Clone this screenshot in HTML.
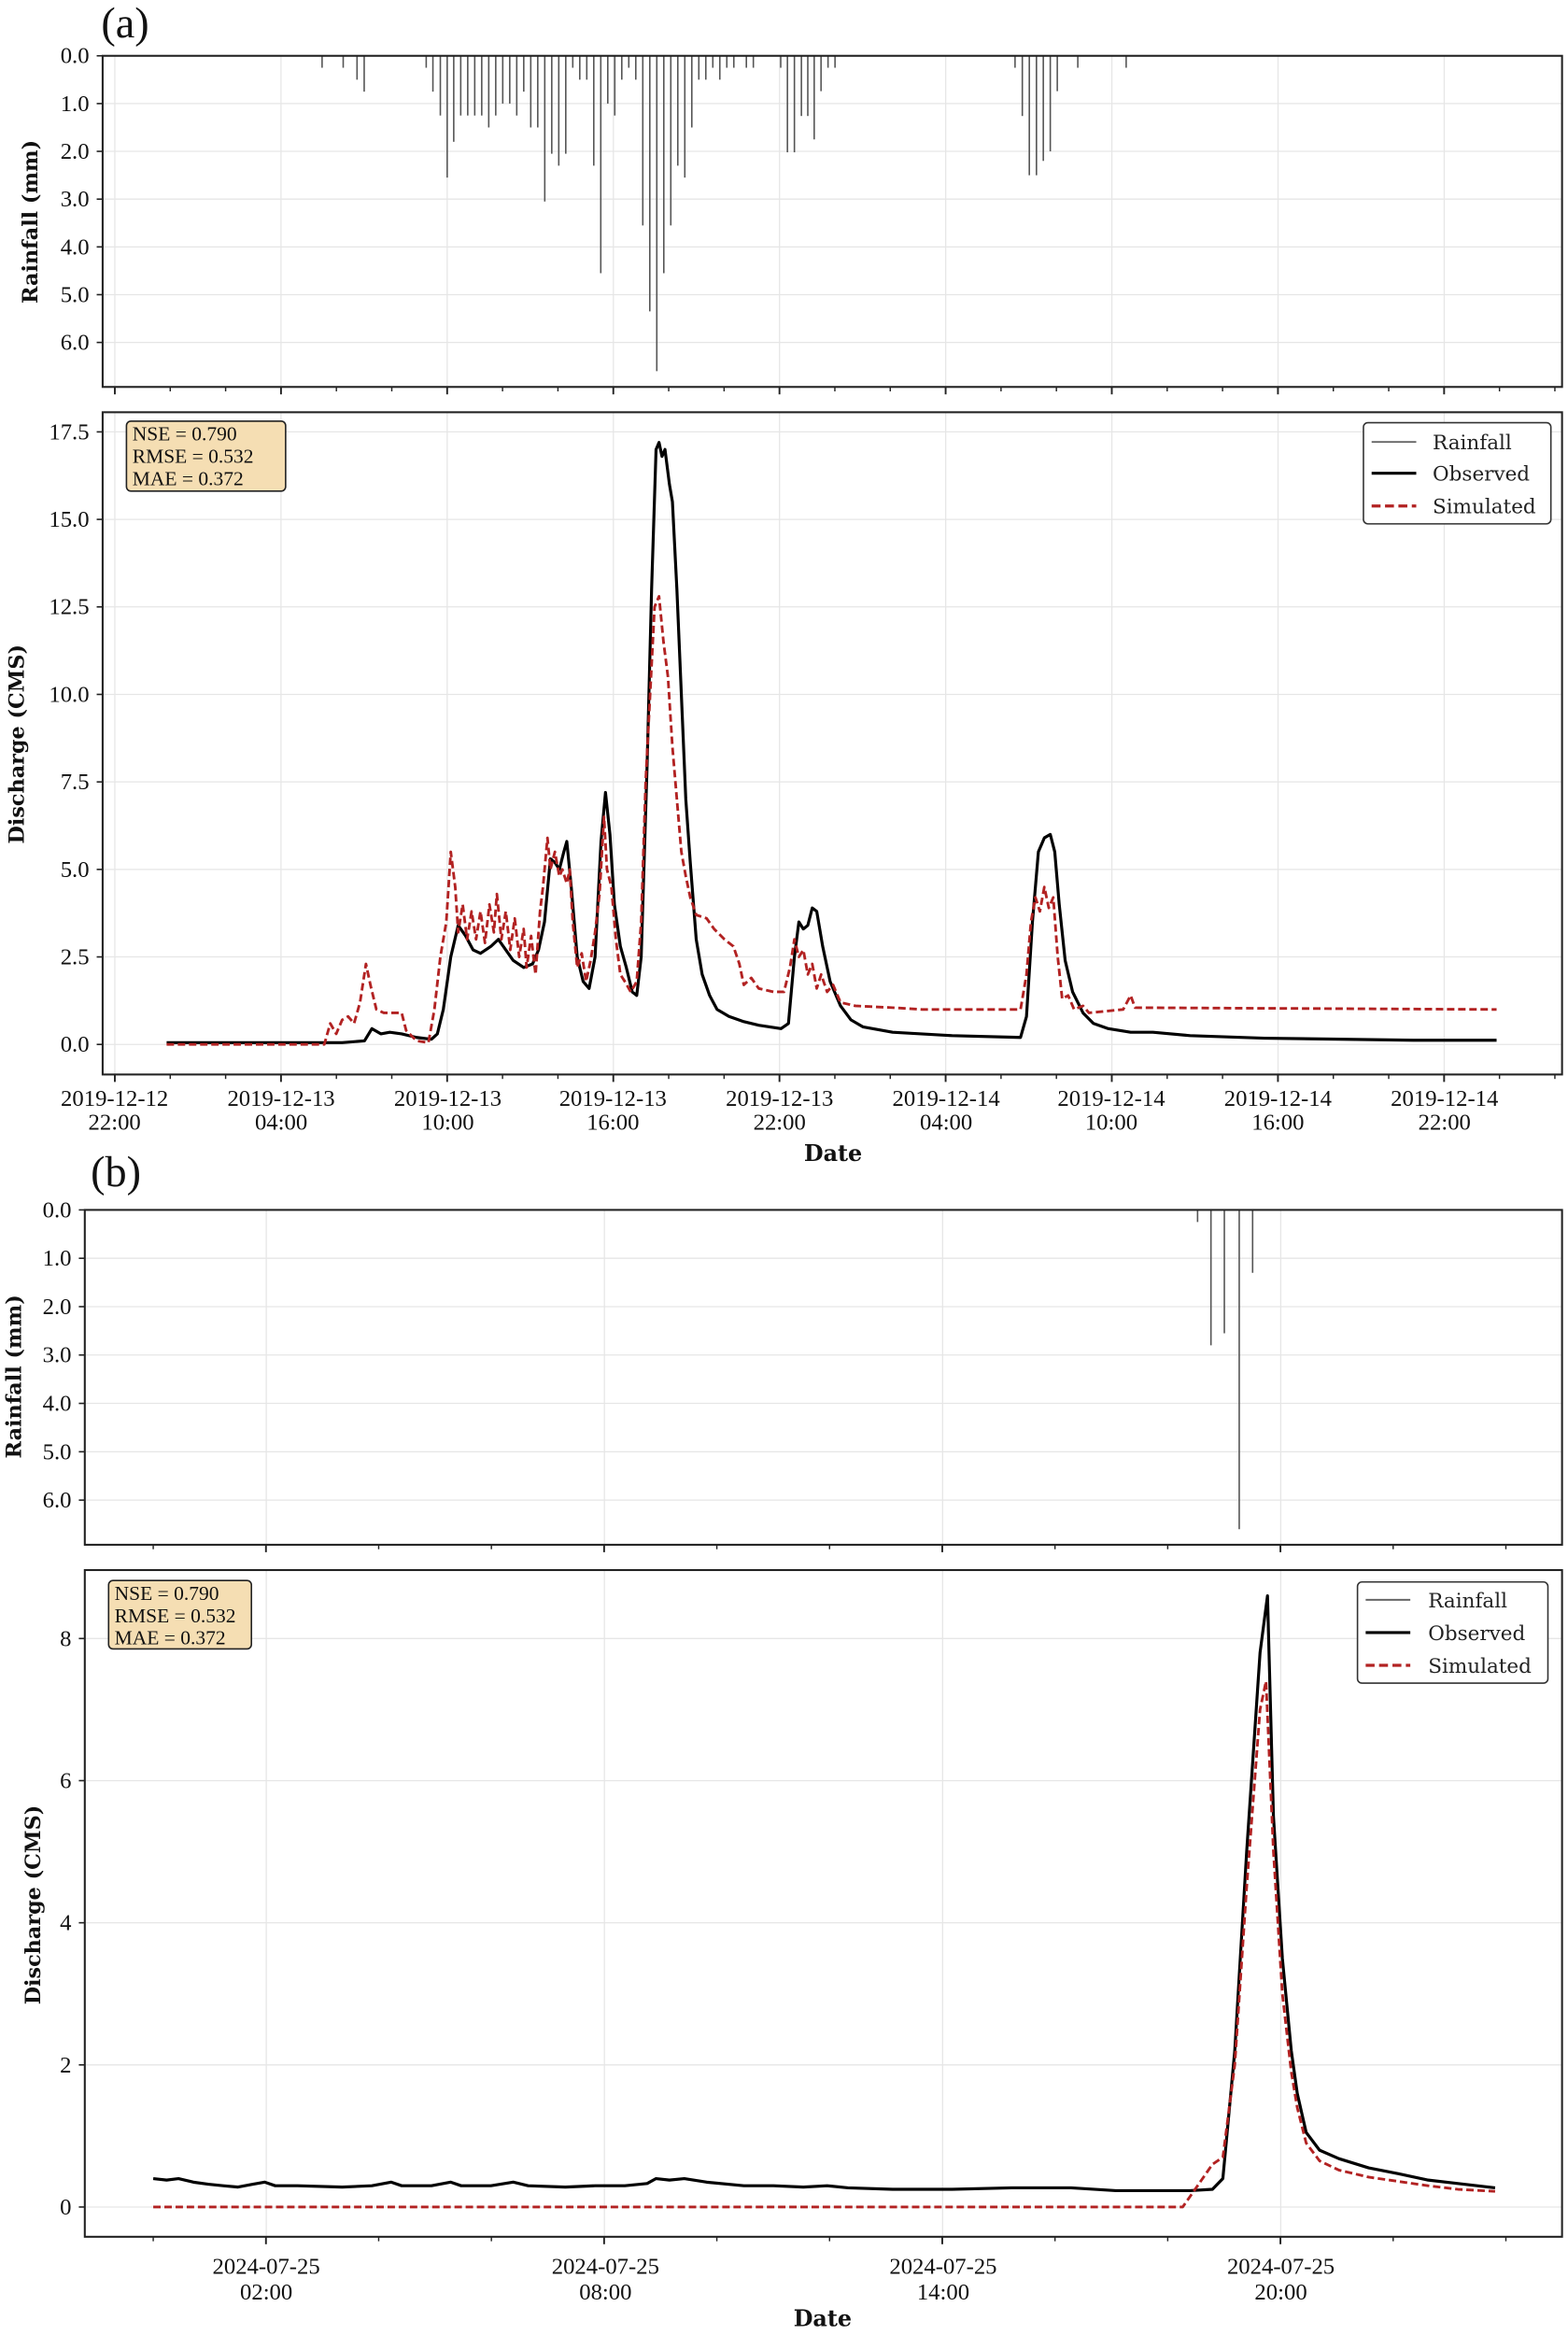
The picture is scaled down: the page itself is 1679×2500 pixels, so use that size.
<!DOCTYPE html>
<html><head><meta charset="utf-8"><style>
html,body{margin:0;padding:0;background:#fff;}
svg{display:block;}
.tk{font-family:"Liberation Serif",serif;font-size:15.5px;fill:#111;}
.al{font-family:"DejaVu Serif",serif;font-size:14px;font-weight:bold;fill:#111;}
.lg{font-family:"DejaVu Serif",serif;font-size:13.5px;fill:#222;}
.st{font-family:"Liberation Serif",serif;font-size:13.5px;fill:#111;}
.gr{stroke:#e6e6e6;stroke-width:0.8;}
</style></head><body>
<svg id="s" width="1679" height="2500" viewBox="0 0 1054 1569" preserveAspectRatio="none" xmlns="http://www.w3.org/2000/svg">
<rect width="1054" height="1569" fill="#fff"/>
<g id="grid"></g>
<g id="data"></g>
<rect x="69" y="37.5" width="981" height="222.5" fill="none" stroke="#222" stroke-width="1.3"/>
<rect x="69" y="277" width="981" height="445" fill="none" stroke="#222" stroke-width="1.3"/>
<rect x="57" y="813" width="993" height="225" fill="none" stroke="#222" stroke-width="1.3"/>
<rect x="57" y="1055" width="993" height="448" fill="none" stroke="#222" stroke-width="1.3"/>
<g id="ticks"></g>

<text x="68" y="25" style="font-family:'Liberation Serif',serif;font-size:29px;fill:#111">(a)</text>
<text x="61" y="797" style="font-family:'Liberation Serif',serif;font-size:29px;fill:#111">(b)</text>

<g class="tk" text-anchor="end">
<text x="60" y="42.5">0.0</text><text x="60" y="74.6">1.0</text><text x="60" y="106.7">2.0</text><text x="60" y="138.8">3.0</text><text x="60" y="170.9">4.0</text><text x="60" y="203">5.0</text><text x="60" y="235.1">6.0</text>
<text x="60" y="706.8">0.0</text><text x="60" y="648">2.5</text><text x="60" y="589.2">5.0</text><text x="60" y="530.4">7.5</text><text x="60" y="471.6">10.0</text><text x="60" y="412.8">12.5</text><text x="60" y="354">15.0</text><text x="60" y="295.2">17.5</text>
<text x="48" y="818">0.0</text><text x="48" y="850.5">1.0</text><text x="48" y="883">2.0</text><text x="48" y="915.5">3.0</text><text x="48" y="948">4.0</text><text x="48" y="980.5">5.0</text><text x="48" y="1013">6.0</text>
<text x="48" y="1488">0</text><text x="48" y="1392.5">2</text><text x="48" y="1297">4</text><text x="48" y="1201.5">6</text><text x="48" y="1106">8</text>
</g>
<g class="al" text-anchor="middle">
<text transform="translate(25,149) rotate(-90)">Rainfall (mm)</text>
<text transform="translate(16,500) rotate(-90)">Discharge (CMS)</text>
<text transform="translate(14,925) rotate(-90)">Rainfall (mm)</text>
<text transform="translate(27,1280) rotate(-90)">Discharge (CMS)</text>
<text x="560" y="780" style="font-size:15px">Date</text>
<text x="553" y="1563" style="font-size:15px">Date</text>
</g>
<g class="tk" text-anchor="middle">
<text x="77" y="743">2019-12-12</text><text x="77" y="759">22:00</text>
<text x="189" y="743">2019-12-13</text><text x="189" y="759">04:00</text>
<text x="301" y="743">2019-12-13</text><text x="301" y="759">10:00</text>
<text x="412" y="743">2019-12-13</text><text x="412" y="759">16:00</text>
<text x="524" y="743">2019-12-13</text><text x="524" y="759">22:00</text>
<text x="636" y="743">2019-12-14</text><text x="636" y="759">04:00</text>
<text x="747" y="743">2019-12-14</text><text x="747" y="759">10:00</text>
<text x="859" y="743">2019-12-14</text><text x="859" y="759">16:00</text>
<text x="971" y="743">2019-12-14</text><text x="971" y="759">22:00</text>
<text x="179" y="1528">2024-07-25</text><text x="179" y="1545">02:00</text>
<text x="407" y="1528">2024-07-25</text><text x="407" y="1545">08:00</text>
<text x="634" y="1528">2024-07-25</text><text x="634" y="1545">14:00</text>
<text x="861" y="1528">2024-07-25</text><text x="861" y="1545">20:00</text>
</g>
<rect x="85" y="283" width="107" height="47" rx="3" fill="#f5deb3" stroke="#222" stroke-width="1"/>
<g class="st"><text x="89" y="296">NSE = 0.790</text><text x="89" y="311">RMSE = 0.532</text><text x="89" y="326">MAE = 0.372</text></g>
<rect x="73" y="1062" width="96" height="46" rx="3" fill="#f5deb3" stroke="#222" stroke-width="1"/>
<g class="st"><text x="77" y="1075">NSE = 0.790</text><text x="77" y="1090">RMSE = 0.532</text><text x="77" y="1105">MAE = 0.372</text></g>
<rect x="916.5" y="284" width="126" height="68" rx="3" fill="#fff" stroke="#333" stroke-width="1"/>
<line x1="922" y1="297" x2="952" y2="297" stroke="#666" stroke-width="1.2"/>
<line x1="922" y1="318" x2="952" y2="318" stroke="#000" stroke-width="2"/>
<line x1="922" y1="340" x2="952" y2="340" stroke="#b22222" stroke-width="2" stroke-dasharray="6,3"/>
<g class="lg"><text x="963" y="302">Rainfall</text><text x="963" y="323">Observed</text><text x="963" y="345">Simulated</text></g>
<rect x="912.5" y="1063" width="128" height="68" rx="3" fill="#fff" stroke="#333" stroke-width="1"/>
<line x1="918" y1="1075" x2="948" y2="1075" stroke="#666" stroke-width="1.2"/>
<line x1="918" y1="1097" x2="948" y2="1097" stroke="#000" stroke-width="2"/>
<line x1="918" y1="1119" x2="948" y2="1119" stroke="#b22222" stroke-width="2" stroke-dasharray="6,3"/>
<g class="lg"><text x="960" y="1080">Rainfall</text><text x="960" y="1102">Observed</text><text x="960" y="1124">Simulated</text></g>
</svg>
<script>
(function(){
var NS="http://www.w3.org/2000/svg";
function el(p,t,a){var e=document.createElementNS(NS,t);for(var k in a)e.setAttribute(k,a[k]);document.getElementById(p).appendChild(e);return e;}
var gxa=[],gxb=[];for(var i=0;i<9;i++)gxa.push(77.2+111.7*i);for(i=0;i<4;i++)gxb.push(179+227.3*i);
gxa.forEach(function(x){el("grid","line",{x1:x,x2:x,y1:37.5,y2:260,"class":"gr"});el("grid","line",{x1:x,x2:x,y1:277,y2:722,"class":"gr"});});
gxb.forEach(function(x){el("grid","line",{x1:x,x2:x,y1:813,y2:1038,"class":"gr"});el("grid","line",{x1:x,x2:x,y1:1055,y2:1503,"class":"gr"});});
for(i=0;i<7;i++){var y=37.5+32.1*i;el("grid","line",{x1:69,x2:1050,y1:y,y2:y,"class":"gr"});y=813+32.5*i;el("grid","line",{x1:57,x2:1050,y1:y,y2:y,"class":"gr"});}
for(i=0;i<8;i++){var y=701.8-58.8*i;el("grid","line",{x1:69,x2:1050,y1:y,y2:y,"class":"gr"});}
for(i=0;i<5;i++){var y=1483-95.5*i;el("grid","line",{x1:57,x2:1050,y1:y,y2:y,"class":"gr"});}
for(i=0;i<=26;i++){var x=77.2+37.23*i;if(x>1050)break;var mj=(i%3==0);el("ticks","line",{x1:x,x2:x,y1:260,y2:mj?265:263,stroke:"#222","stroke-width":mj?1.2:0.9});el("ticks","line",{x1:x,x2:x,y1:722,y2:mj?727:725,stroke:"#222","stroke-width":mj?1.2:0.9});}
for(i=0;i<=12;i++){var x=103+75.77*i;if(x>1050)break;var mj=((i-1)%3==0);el("ticks","line",{x1:x,x2:x,y1:1038,y2:mj?1043:1041,stroke:"#222","stroke-width":mj?1.2:0.9});el("ticks","line",{x1:x,x2:x,y1:1503,y2:mj?1508:1506,stroke:"#222","stroke-width":mj?1.2:0.9});}
[[69,[37.5,69.6,101.7,133.8,165.9,198,230.1,701.8,643,584.2,525.4,466.6,407.8,349,290.2]],[57,[813,845.5,878,910.5,943,975.5,1008,1483,1387.5,1292,1196.5,1101]]].forEach(function(p){p[1].forEach(function(y){el("ticks","line",{x1:p[0]-4,x2:p[0],y1:y,y2:y,stroke:"#222","stroke-width":1});});});
var ra=[[216.5,.25],[230.7,.25],[240,.5],[244.8,.75],[286.5,.25],[291,.75],[296,1.25],[300.6,2.55],[305,1.8]];
var vals=[1.25,1.25,1.25,1.25,1.5,1.25,1.0,1.0,1.25,.75,1.5,1.5,3.05,2.05,2.3,2.05,.25,.5,.5,2.3,4.55,1.0,1.25,.5,.25,.5,3.55,5.35,6.6,4.55,3.55,2.3,2.55,1.5,.5,.5,.25,.5,.25,.25];
for(i=0;i<vals.length;i++)ra.push([309.7+4.707*i,vals[i]]);
ra=ra.concat([[501.7,.25],[506.4,.25],[524.8,.25],[529.3,2.02],[534,2.02],[538.7,1.26],[543,1.26],[547.3,1.75],[551.9,.74],[556.6,.25],[561.3,.25],[682.3,.25],[687.2,1.26],[691.9,2.5],[696.7,2.5],[701.3,2.2],[706,2.0],[710.7,.74],[724.5,.25],[757,.25]]);
ra.forEach(function(b){el("data","line",{x1:b[0],x2:b[0],y1:37.5,y2:37.5+b[1]*32.1,stroke:"#555","stroke-width":1});});
[[805,.25],[814,2.8],[823,2.55],[833,6.6],[842,1.3]].forEach(function(b){el("data","line",{x1:b[0],x2:b[0],y1:813,y2:813+b[1]*32.5,stroke:"#555","stroke-width":1});});
function pl(pts,y0,k,st){var s=pts.map(function(p){return p[0]+","+(y0-p[1]*k).toFixed(1);}).join(" ");var a={points:s,fill:"none","stroke-linejoin":"round"};for(var q in st)a[q]=st[q];el("data","polyline",a);}
var oa=[[112,.05],[230,.05],[245,.1],[250,.45],[256,.3],[262,.35],[270,.3],[280,.2],[290,.15],[294,.3],[298,1.0],[303,2.5],[308,3.4],[313,3.1],[318,2.7],[323,2.6],[330,2.8],[335,3.0],[340,2.7],[345,2.4],[352,2.2],[358,2.3],[362,2.7],[366,3.5],[370,5.3],[373,5.2],[376,5.0],[379,5.5],[381,5.8],[384,4.5],[388,2.5],[392,1.8],[396,1.6],[400,2.5],[404,5.8],[407,7.2],[410,6.0],[413,4.0],[417,2.8],[421,2.2],[425,1.5],[428,1.4],[431,2.5],[435,8],[438,13],[441,17],[443,17.2],[445,16.8],[447,17.0],[450,16],[452,15.5],[455,13],[458,10],[461,7],[464,5.2],[468,3.0],[472,2.0],[477,1.4],[482,1.0],[490,.8],[500,.65],[510,.55],[525,.45],[530,.6],[534,2.5],[537,3.5],[540,3.3],[543,3.4],[546,3.9],[549,3.8],[553,2.8],[558,1.8],[565,1.1],[572,.7],[580,.5],[600,.35],[640,.25],[686,.2],[690,.8],[694,3.5],[698,5.5],[702,5.9],[706,6.0],[709,5.5],[712,4.0],[716,2.4],[721,1.5],[728,.9],[735,.6],[745,.45],[760,.35],[775,.35],[800,.25],[850,.18],[900,.15],[950,.12],[1006,.12]];
var sa=[[112,0],[218,0],[222,.6],[226,.3],[230,.7],[234,.8],[238,.6],[242,1.2],[246,2.3],[249,1.7],[253,1.0],[258,.9],[270,.9],[273,.4],[280,.1],[288,.05],[292,1.0],[296,2.5],[300,3.5],[303,5.5],[306,4.5],[308,3.2],[311,4.0],[314,3.0],[317,3.8],[320,3.0],[323,3.8],[326,2.9],[329,4.0],[332,3.2],[334,4.3],[337,3.0],[340,3.8],[343,2.7],[346,3.6],[349,2.5],[352,3.3],[354,2.2],[357,3.1],[360,2.0],[363,3.8],[365,4.5],[368,5.9],[370,5.0],[373,5.5],[376,4.8],[378,5.0],[381,4.6],[383,5.0],[385,3.5],[388,2.2],[391,2.6],[394,1.8],[397,2.4],[400,3.2],[403,4.3],[406,6.5],[408,5.0],[411,4.5],[414,3.0],[417,2.0],[420,1.8],[424,1.5],[428,1.8],[431,3.5],[434,7.5],[437,10],[440,12.5],[443,12.8],[446,11.5],[449,10.5],[452,8.5],[455,7],[458,5.5],[461,4.8],[464,4.2],[468,3.7],[475,3.6],[480,3.3],[487,3.0],[493,2.8],[497,2.3],[500,1.7],[505,1.9],[510,1.6],[520,1.5],[527,1.5],[531,2.2],[534,3.0],[537,2.5],[540,2.7],[543,2.0],[546,2.3],[549,1.6],[552,2.0],[556,1.5],[560,1.7],[565,1.2],[575,1.1],[600,1.05],[620,1.0],[686,1.0],[690,2.0],[693,3.5],[696,4.2],[699,3.8],[702,4.5],[705,3.9],[708,4.2],[711,2.5],[714,1.3],[718,1.4],[722,1.0],[728,1.1],[732,.9],[755,1.0],[760,1.4],[763,1.05],[1006,1.0]];
pl(oa,701.8,23.52,{stroke:"#000","stroke-width":2});
pl(sa,701.8,23.52,{stroke:"#b22222","stroke-width":1.8,"stroke-dasharray":"5,2.5"});
var ob=[[103,.4],[112,.38],[120,.4],[130,.35],[140,.32],[150,.3],[160,.28],[170,.32],[178,.35],[185,.3],[200,.3],[230,.28],[250,.3],[263,.35],[270,.3],[290,.3],[303,.35],[310,.3],[330,.3],[345,.35],[355,.3],[380,.28],[400,.3],[420,.3],[435,.33],[441,.4],[450,.38],[460,.4],[475,.35],[500,.3],[520,.3],[540,.28],[556,.3],[570,.27],[600,.25],[640,.25],[680,.27],[720,.27],[750,.23],[800,.23],[815,.25],[822,.4],[830,2.2],[838,5],[847,7.8],[852,8.6],[856,5.5],[862,3.5],[868,2.2],[872,1.6],[878,1.05],[887,.8],[900,.68],[920,.55],[940,.47],[960,.38],[980,.33],[1005,.27]];
var sb=[[103,0],[795,0],[805,.3],[815,.6],[822,.7],[830,2.0],[838,4.5],[847,7],[851,7.4],[856,5],[862,3.0],[868,1.9],[872,1.4],[878,.9],[887,.65],[900,.52],[920,.42],[940,.36],[960,.3],[980,.25],[1005,.22]];
pl(ob,1483,47.75,{stroke:"#000","stroke-width":2});
pl(sb,1483,47.75,{stroke:"#b22222","stroke-width":1.8,"stroke-dasharray":"5,2.5"});
})();
</script>
</body></html>
